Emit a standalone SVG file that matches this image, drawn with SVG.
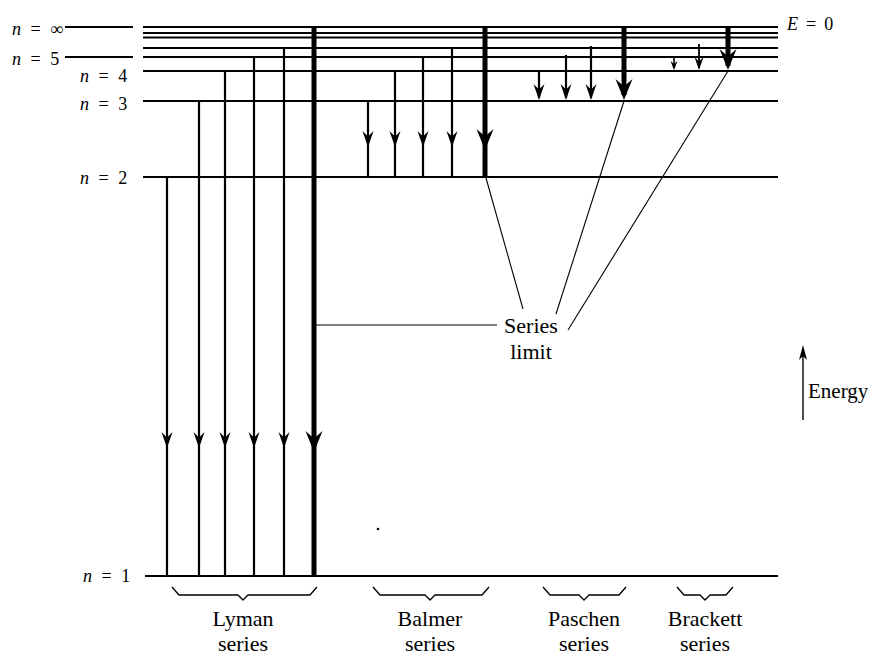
<svg xmlns="http://www.w3.org/2000/svg" width="873" height="657" viewBox="0 0 873 657">
<style>
.lvl{stroke:#000;stroke-width:1.8;fill:none}
.sh{stroke:#000;stroke-width:2.2;fill:none}
.shT{stroke:#000;stroke-width:5;fill:none}
.ld{stroke:#000;stroke-width:1.1;fill:none}
.br{stroke:#000;stroke-width:1.4;fill:none;stroke-linejoin:round}
.hd{fill:#000}
text{font-family:'Liberation Serif','DejaVu Serif',serif;fill:#000}
.lb{font-size:22px}
.nl{font-size:18px;word-spacing:5px}
.it{font-style:italic}
</style>
<defs>
<path id="h" d="M0,0 L-5.5,-16 L0,-10.5 L5.5,-16 Z"/>
<path id="hT" d="M0,0 L-8.5,-21 L0,-13.5 L8.5,-21 Z"/>
<path id="hS" d="M0,0 L-3.5,-9 L0,-6 L3.5,-9 Z"/>
<path id="hM" d="M0,0 L-4.5,-13 L0,-8.5 L4.5,-13 Z"/>
</defs>

<g id="levels">
  <line class="lvl" x1="65" y1="27" x2="133" y2="27"/>
  <line class="lvl" x1="65" y1="57" x2="133" y2="57"/>
  <line class="lvl" x1="143" y1="27" x2="778" y2="27"/>
  <line class="lvl" x1="143" y1="33" x2="778" y2="33"/>
  <line class="lvl" x1="143" y1="37.5" x2="778" y2="37.5"/>
  <line class="lvl" x1="143" y1="48" x2="778" y2="48"/>
  <line class="lvl" x1="143" y1="57" x2="778" y2="57"/>
  <line class="lvl" x1="143" y1="71" x2="778" y2="71"/>
  <line class="lvl" x1="143" y1="101" x2="778" y2="101"/>
  <line class="lvl" x1="143" y1="177" x2="778" y2="177"/>
  <line class="lvl" x1="145" y1="576" x2="778" y2="576"/>
</g>

<g id="level-labels" font-family="Liberation Serif, DejaVu Serif, serif">
  <text class="nl" x="12" y="35"><tspan class="it">n</tspan> = ∞</text>
  <text class="nl" x="12" y="65"><tspan class="it">n</tspan> = 5</text>
  <text class="nl" x="80" y="82"><tspan class="it">n</tspan> = 4</text>
  <text class="nl" x="80" y="110"><tspan class="it">n</tspan> = 3</text>
  <text class="nl" x="80" y="184"><tspan class="it">n</tspan> = 2</text>
  <text class="nl" x="83" y="582"><tspan class="it">n</tspan> = 1</text>
  <text class="nl" x="787" y="30" style="word-spacing:3.5px"><tspan class="it">E</tspan> = 0</text>
</g>

<g id="lyman">
  <line class="sh" x1="167" y1="177" x2="167" y2="576"/>
  <line class="sh" x1="199" y1="101" x2="199" y2="576"/>
  <line class="sh" x1="225" y1="71" x2="225" y2="576"/>
  <line class="sh" x1="254" y1="57" x2="254" y2="576"/>
  <line class="sh" x1="284" y1="48" x2="284" y2="576"/>
  <line class="shT" x1="314" y1="27" x2="314" y2="576"/>
  <use href="#h" x="167" y="448"/>
  <use href="#h" x="199" y="448"/>
  <use href="#h" x="225" y="448"/>
  <use href="#h" x="254" y="448"/>
  <use href="#h" x="284" y="448"/>
  <use href="#hT" x="314" y="452"/>
</g>

<g id="balmer">
  <line class="sh" x1="368" y1="101" x2="368" y2="177"/>
  <line class="sh" x1="395" y1="71" x2="395" y2="177"/>
  <line class="sh" x1="423" y1="57" x2="423" y2="177"/>
  <line class="sh" x1="452" y1="48" x2="452" y2="177"/>
  <line class="shT" x1="485" y1="27" x2="485" y2="177"/>
  <use href="#h" x="368" y="147"/>
  <use href="#h" x="395" y="147"/>
  <use href="#h" x="423" y="147"/>
  <use href="#h" x="452" y="147"/>
  <use href="#hT" x="485" y="150"/>
</g>

<g id="paschen">
  <line class="sh" x1="539" y1="71" x2="539" y2="98"/>
  <line class="sh" x1="566" y1="55" x2="566" y2="98"/>
  <line class="sh" x1="591" y1="46" x2="591" y2="98"/>
  <line class="shT" x1="624" y1="27" x2="624" y2="95"/>
  <use href="#h" x="539" y="100"/>
  <use href="#h" x="566" y="100"/>
  <use href="#h" x="591" y="100"/>
  <use href="#hT" x="624" y="100"/>
</g>

<g id="brackett">
  <line class="sh" x1="674" y1="56" x2="674" y2="68" style="stroke-width:1.6"/>
  <line class="sh" x1="699" y1="44" x2="699" y2="68" style="stroke-width:1.8"/>
  <line class="shT" x1="728" y1="27" x2="728" y2="66"/>
  <use href="#hS" x="674" y="70"/>
  <use href="#hM" x="699" y="70"/>
  <use href="#hT" x="728" y="70"/>
</g>

<g id="connectors">
  <line class="ld" x1="316" y1="325" x2="497" y2="325"/>
  <line class="ld" x1="486" y1="178" x2="523" y2="309"/>
  <line class="ld" x1="624" y1="101" x2="556" y2="314"/>
  <line class="ld" x1="728" y1="71" x2="568" y2="330"/>
</g>

<g id="series-limit" font-family="Liberation Serif, DejaVu Serif, serif">
  <text class="lb" x="531" y="333" text-anchor="middle">Series</text>
  <text class="lb" x="531" y="359" text-anchor="middle">limit</text>
</g>

<g id="energy-axis" font-family="Liberation Serif, DejaVu Serif, serif">
  <line class="ld" x1="803" y1="420" x2="803" y2="352" style="stroke-width:1.4"/>
  <path class="hd" d="M803,345 L799,360 L803,356 L807,360 Z"/>
  <text class="lb" x="808" y="398" style="font-size:21px">Energy</text>
</g>

<g id="lyman-label" font-family="Liberation Serif, DejaVu Serif, serif">
  <path class="br" d="M172,587 L179,595 L238,595 L243,600 L248,595 L310,595 L317,587"/>
  <text class="lb" x="243" y="626" text-anchor="middle">Lyman</text>
  <text class="lb" x="243" y="651" text-anchor="middle">series</text>
</g>
<g id="balmer-label" font-family="Liberation Serif, DejaVu Serif, serif">
  <path class="br" d="M373,587 L380,595 L425,595 L430,600 L435,595 L482,595 L489,587"/>
  <text class="lb" x="430" y="626" text-anchor="middle">Balmer</text>
  <text class="lb" x="430" y="651" text-anchor="middle">series</text>
</g>
<g id="paschen-label" font-family="Liberation Serif, DejaVu Serif, serif">
  <path class="br" d="M543,587 L550,595 L579,595 L584,600 L589,595 L619,595 L626,587"/>
  <text class="lb" x="584" y="626" text-anchor="middle">Paschen</text>
  <text class="lb" x="584" y="651" text-anchor="middle">series</text>
</g>
<g id="brackett-label" font-family="Liberation Serif, DejaVu Serif, serif">
  <path class="br" d="M677,587 L684,595 L700,595 L705,600 L710,595 L726,595 L733,587"/>
  <text class="lb" x="705" y="626" text-anchor="middle">Brackett</text>
  <text class="lb" x="705" y="651" text-anchor="middle">series</text>
</g>

<circle cx="378" cy="529" r="1.3" fill="#000"/>
</svg>
